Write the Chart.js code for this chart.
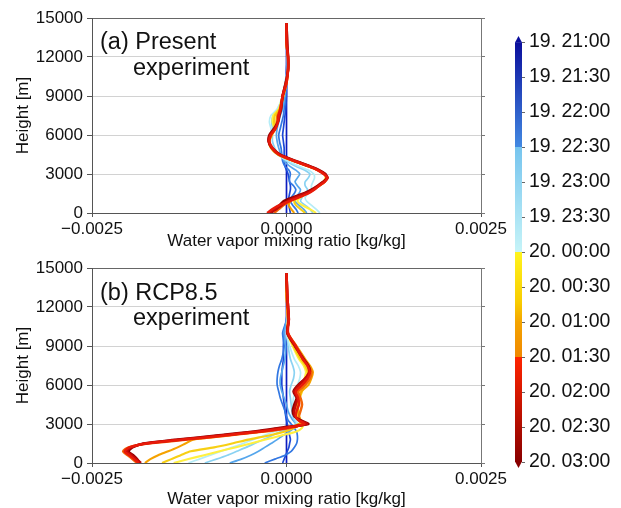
<!DOCTYPE html>
<html><head><meta charset="utf-8">
<script src="https://cdn.jsdelivr.net/npm/chart.js@4"></script>
<style>
html,body{margin:0;padding:0;background:#fff;width:621px;height:508px;overflow:hidden;}
#wrap{position:relative;width:621px;height:508px;font-family:'Liberation Sans',Arial,sans-serif;}
canvas{position:absolute;}
.lbl{position:absolute;font-size:23.5px;line-height:23.5px;color:#111;white-space:nowrap;}
</style></head><body>
<div id="wrap">
<canvas id="ca" width="515" height="250" style="left:0;top:0"></canvas>
<canvas id="cb" width="515" height="258" style="left:0;top:250px"></canvas>
<canvas id="cc" width="106" height="508" style="left:515px;top:0"></canvas>
<div class="lbl" style="left:100px;top:30px">(a) Present</div>
<div class="lbl" style="left:133px;top:56px">experiment</div>
<div class="lbl" style="left:100px;top:281px">(b) RCP8.5</div>
<div class="lbl" style="left:133px;top:306px">experiment</div>
</div>
<script>
// ---------- data ----------
const SCALE = 1e-4; // values below are in units of 1e-4 kg/kg
const HEIGHTS = [0,300,600,900,1200,1500,1800,2100,2400,2700,3000,3300,3600,4000,4500,5000,5500,6000,6500,7000,7500,8000,9000,10000,11000,12000,13000,14600];
const TIME_LABELS = ['19. 21:00','19. 21:30','19. 22:00','19. 22:30','19. 23:00','19. 23:30','20. 00:00','20. 00:30','20. 01:00','20. 01:30','20. 02:00','20. 02:30','20. 03:00'];
const X_TICKS = [-0.0025, 0, 0.0025];
const Y_TICKS = [0,3000,6000,9000,12000,15000];

// (a) Present experiment
const present_2100 = [0,0,0,0,0,0,0,0,0,0,0,0,0,0,0,0,0,0,0,0,0,0,0,0,0,0,0,0];
const present_2130 = [0.5,0.4,0.3,0.2,0.3,0.4,0.5,0.5,0.4,0.3,0.2,0,-0.2,-0.3,-0.3,-0.3,-0.4,-0.5,-0.4,-0.3,-0.2,-0.1,0,0,0,0.1,0,0];
const present_2200 = [1.5,1.2,0.8,0.5,0.6,1.0,1.2,0.9,0.4,0.4,0.5,0.3,-0.2,-0.5,-0.6,-0.7,-0.9,-1.0,-0.8,-0.6,-0.4,-0.3,-0.1,0,0.1,0.1,0,0];
const present_2230 = [2.6,2.2,1.6,1.1,1.2,1.6,1.8,1.4,1.1,1.4,1.7,1.2,0.4,-0.3,-0.7,-1.0,-1.2,-1.3,-1.2,-1.0,-0.8,-0.5,-0.2,-0.1,0.1,0.1,0,0];
const present_2300 = [3.4,3.0,2.4,1.8,2.0,2.4,2.7,2.4,2.4,2.8,3.0,2.3,1.2,0,-1.0,-1.5,-1.8,-1.8,-1.8,-1.9,-1.7,-1.0,-0.4,-0.2,0.1,0.1,0,0];
const present_2330 = [4.3,3.8,3.2,2.6,2.4,2.8,3.2,3.2,3.4,3.6,3.5,2.8,1.6,0.2,-1.2,-2.0,-2.2,-2.0,-2.0,-2.2,-2.0,-1.2,-0.5,-0.2,0.2,0.1,0,0];
const present_0000 = [3.8,3.0,2.0,1.4,1.8,2.6,3.4,4.1,4.7,5.0,4.9,4.1,2.9,1.0,-1.0,-1.9,-2.2,-1.9,-1.6,-1.8,-1.7,-1.0,-0.5,-0.1,0.2,0.2,0,0];
const present_0030 = [2.4,1.8,1.2,1.0,1.5,2.4,3.4,4.2,4.8,5.1,4.9,4.0,2.8,0.9,-1.1,-2.0,-2.2,-1.9,-1.5,-1.6,-1.5,-0.9,-0.4,0,0.2,0.2,0,0];
const present_0100 = [1.0,0.6,0.3,0.5,1.2,2.2,3.3,4.2,4.9,5.2,4.9,4.0,2.7,0.9,-1.1,-2.0,-2.2,-1.9,-1.4,-1.3,-1.2,-0.8,-0.4,0,0.2,0.2,0,0];
const present_0130 = [-1.6,-1.0,-0.4,0.4,1.4,2.6,3.5,4.2,4.9,5.2,4.8,4.0,2.8,1.0,-1.0,-1.9,-2.2,-2.0,-1.4,-1.2,-1.1,-0.8,-0.5,0,0.2,0.2,0,0];
const present_0200 = [-2.5,-1.8,-0.9,0.3,1.6,2.8,3.6,4.2,4.9,5.2,4.8,4.0,2.8,1.0,-1.0,-1.8,-2.2,-2.0,-1.4,-1.1,-1.0,-0.8,-0.5,0,0.2,0.2,0,0];
const present_0230 = [-2.2,-1.3,-0.6,0.1,1.1,2.4,3.4,4.1,4.8,5.3,4.9,4.1,2.9,1.1,-0.9,-1.9,-2.3,-2.1,-1.5,-1.1,-1.0,-0.7,-0.5,-0.1,0.2,0.2,0.1,0];
const present_0300 = [-1.9,-1.6,-0.9,-0.4,0.8,2.2,3.2,4.0,4.7,5.2,5.0,4.2,3.0,1.2,-0.8,-1.8,-2.3,-2.2,-1.6,-1.1,-0.9,-0.7,-0.5,-0.1,0.2,0.2,0.1,0];

// (b) RCP8.5 experiment
const rcp_2100 = [0,0,0,0,0,0,0,0,0,0,0,0,0,0,0,0,0,0,0,0,0,0,0,0,0,0,0,0];
const rcp_2130 = [-0.5,-0.3,-0.1,0.1,0.3,0.4,0.5,0.4,0.3,0.2,0.1,0,-0.1,-0.2,-0.3,-0.4,-0.5,-0.6,-0.6,-0.6,-0.5,-0.4,-0.4,-0.3,0,0.1,0,0];
const rcp_2200 = [-2.8,-1.5,-0.2,0.6,1.0,1.3,1.4,1.4,1.3,1.0,0.6,0.2,0,-0.2,-0.5,-0.8,-1.0,-1.2,-1.2,-1.1,-0.9,-0.6,-0.3,-0.5,0,0.1,0,0];
const rcp_2230 = [-7.3,-5.8,-4.6,-3.6,-2.8,-2.0,-1.2,-0.5,0.3,1.0,1.2,0.8,0.5,0.2,0,-0.3,-0.6,-0.8,-0.8,-0.6,-0.4,-0.2,-0.1,-0.3,0,0.1,0,0];
const rcp_2300 = [-10.5,-9.0,-7.6,-6.4,-5.2,-4.1,-3.0,-1.9,-0.8,0.5,1.2,1.0,0.8,0.7,0.6,0.5,0.4,0.6,0.9,1.0,0.8,0.5,0.2,0,0.1,0.1,0,0];
const rcp_2330 = [-12.6,-11.2,-9.8,-8.4,-7.0,-5.6,-4.3,-3.0,-1.6,0,1.4,1.2,1.0,0.9,0.8,0.9,1.1,1.4,1.7,1.8,1.5,1.0,0.4,0,0.1,0.1,0,0];
const rcp_0000 = [-14.5,-12.6,-10.6,-8.6,-6.6,-4.6,-2.7,-0.8,1.2,2.0,2.0,1.6,1.4,1.3,1.4,1.6,1.8,2.0,2.3,2.5,2.2,1.6,0.8,0.1,0.2,0.1,0,0];
const rcp_0030 = [-16.0,-14.8,-13.6,-12.3,-9.3,-7.0,-4.9,-2.4,-0.3,1.0,1.8,1.8,1.6,1.5,1.5,1.7,2.0,2.3,2.6,2.7,2.4,1.8,0.9,0.2,0.2,0.1,0,0];
const rcp_0100 = [-18.2,-17.5,-16.5,-15.2,-14.0,-13.0,-12.0,-7.8,-3.4,0.2,1.6,1.8,1.6,1.5,1.4,1.6,1.9,2.8,3.2,3.4,3.0,2.4,1.3,0.2,0.2,0.1,0,0];
const rcp_0130 = [-19.2,-19.8,-20.4,-21.0,-20.3,-17.8,-12.8,-7.8,-3.2,0.4,2.0,1.6,1.6,1.8,2.0,1.8,1.5,2.4,3.0,3.2,2.8,2.2,1.2,0.2,0.2,0.1,0,0];
const rcp_0200 = [-19.0,-19.6,-20.2,-20.8,-20.2,-18.0,-13.2,-8.3,-3.6,0,2.3,1.5,1.2,1.3,1.6,1.5,1.2,2.0,2.7,3.0,2.7,2.1,1.2,0.2,0.3,0.2,0.1,0];
const rcp_0230 = [-18.7,-19.3,-19.9,-20.5,-20.0,-18.2,-13.6,-8.8,-4.0,-0.5,2.6,1.6,1.1,1.0,1.2,1.4,1.0,1.6,2.4,2.9,2.7,2.1,1.1,0.1,0.3,0.2,0.1,0];
const rcp_0300 = [-18.9,-19.2,-19.7,-20.3,-19.8,-18.4,-14.0,-9.3,-4.5,-1.0,2.8,1.8,1.0,0.8,1.0,1.3,0.9,1.5,2.4,3.0,2.8,2.2,1.1,0.1,0.3,0.2,0.1,0];

const PRESENT = [present_2100,present_2130,present_2200,present_2230,present_2300,present_2330,present_0000,present_0030,present_0100,present_0130,present_0200,present_0230,present_0300];
const RCP = [rcp_2100,rcp_2130,rcp_2200,rcp_2230,rcp_2300,rcp_2330,rcp_0000,rcp_0030,rcp_0100,rcp_0130,rcp_0200,rcp_0230,rcp_0300];

// ---------- styles ----------
const LINE_COLORS = ['#0c1cc0','#1d48d6','#3277e2','#55a6ec','#8ad2f2','#b4ecf7','#fff040','#f7cf14','#f5a200','#f26408','#e81a0a','#c20a0a','#920000'];
// draw order (lower = on top)
const DRAW_ORDER = [13,12,11,10,9,8,7,6,5,4,1,2,3];
const CB_STOPS = [[0,'#0a0e9c'],[0.25,'#4289e2'],[0.2502,'#76c4ee'],[0.5,'#c6f4f8'],[0.5002,'#fff41e'],[0.62,'#f8cc00'],[0.6667,'#f4a400'],[0.75,'#f08800'],[0.7502,'#ff2400'],[1,'#880000']];
const FONT = "'Liberation Sans', Arial, sans-serif";
Chart.defaults.font.family = FONT;

function fmtX(v){
  if (Math.abs(v) < 1e-9) return '0.0000';
  return (v < 0 ? '\u2212' : '') + Math.abs(v).toFixed(4);
}

function panel(id, series, xAxisH){
  const datasets = series.map((vals, i) => ({
    data: vals.map((v, k) => ({x: v * SCALE, y: HEIGHTS[k]})),
    showLine: true,
    borderColor: LINE_COLORS[i],
    borderWidth: i >= 9 ? 2.5 : (i >= 6 ? 2.1 : 1.7),
    pointRadius: 0,
    tension: 0.25,
    fill: false,
    order: DRAW_ORDER[i]
  }));
  return new Chart(document.getElementById(id), {
    type: 'scatter',
    data: {datasets},
    options: {
      responsive: false, animation: false, events: [],
      layout: {padding: {left: 0, top: 18, right: 34, bottom: 0}},
      plugins: {legend: {display: false}, tooltip: {enabled: false}},
      scales: {
        x: {
          type: 'linear', position: 'bottom', min: X_TICKS[0], max: X_TICKS[X_TICKS.length-1],
          afterBuildTicks: s => { s.ticks = X_TICKS.map(v => ({value: v})); },
          ticks: {callback: v => fmtX(v), color: '#111', font: {size: 17}, padding: 2, maxRotation: 0, autoSkip: false},
          grid: {drawOnChartArea: false, tickLength: 4, tickColor: '#555'},
          border: {color: '#555', width: 1},
          title: {display: true, text: 'Water vapor mixing ratio [kg/kg]', color: '#111', font: {size: 17}, padding: {top: 0, bottom: -2}},
          afterFit: s => { s.height = xAxisH; }
        },
        x2: {
          type: 'linear', position: 'top', min: X_TICKS[0], max: X_TICKS[X_TICKS.length-1],
          ticks: {display: false}, grid: {display: false},
          border: {color: '#666', width: 1},
          afterFit: s => { s.height = 0; }
        },
        y: {
          type: 'linear', position: 'left', min: Y_TICKS[0], max: Y_TICKS[Y_TICKS.length-1],
          afterBuildTicks: s => { s.ticks = Y_TICKS.map(v => ({value: v})); },
          ticks: {color: '#111', font: {size: 17}, padding: 4, autoSkip: false, callback: v => String(v)},
          grid: {color: '#d2d2d2', tickColor: '#555', tickLength: 5, lineWidth: 1},
          border: {color: '#555', width: 1},
          title: {display: true, text: 'Height [m]', color: '#111', font: {size: 17}, padding: {top: 13, bottom: 0}},
          afterFit: s => { s.width = 92; }
        },
        y2: {
          type: 'linear', position: 'right', min: Y_TICKS[0], max: Y_TICKS[Y_TICKS.length-1],
          afterBuildTicks: s => { s.ticks = Y_TICKS.map(v => ({value: v})); },
          ticks: {display: false},
          grid: {drawOnChartArea: false, tickLength: 4, tickColor: '#777'},
          border: {color: '#777', width: 1},
          afterFit: s => { s.width = 0; }
        }
      }
    }
  });
}

panel('ca', PRESENT, 37);
panel('cb', RCP, 45);

// ---------- colour bar ----------
function cbGradient(chart){
  const a = chart.chartArea;
  if (!a) return CB_STOPS[0][1];
  const g = chart.ctx.createLinearGradient(0, a.top, 0, a.bottom);
  CB_STOPS.forEach(([p, c]) => g.addColorStop(p, c));
  return g;
}
const cbEnds = {
  id: 'cbEnds',
  afterDatasetsDraw(chart){
    const {ctx, chartArea: a} = chart;
    const mid = (a.left + a.right) / 2, h = 6;
    ctx.save();
    ctx.fillStyle = CB_STOPS[0][1];
    ctx.beginPath(); ctx.moveTo(a.left, a.top + 0.5); ctx.lineTo(a.right, a.top + 0.5); ctx.lineTo(mid, a.top - h); ctx.closePath(); ctx.fill();
    ctx.fillStyle = CB_STOPS[CB_STOPS.length-1][1];
    ctx.beginPath(); ctx.moveTo(a.left, a.bottom - 0.5); ctx.lineTo(a.right, a.bottom - 0.5); ctx.lineTo(mid, a.bottom + h); ctx.closePath(); ctx.fill();
    ctx.restore();
  }
};
new Chart(document.getElementById('cc'), {
  type: 'bar',
  data: {labels: ['cb'], datasets: [{data: [[0, TIME_LABELS.length - 1]], backgroundColor: c => cbGradient(c.chart), borderWidth: 0, barPercentage: 1, categoryPercentage: 1}]},
  options: {
    responsive: false, animation: false, events: [],
    layout: {padding: {left: 0, right: 0, top: 42, bottom: 46}},
    plugins: {legend: {display: false}, tooltip: {enabled: false}},
    scales: {
      x: {display: false},
      y: {
        type: 'linear', position: 'right', reverse: true, min: 0, max: TIME_LABELS.length - 1,
        afterBuildTicks: s => { s.ticks = TIME_LABELS.map((_, i) => ({value: i})); },
        ticks: {callback: v => TIME_LABELS[v], color: '#111', font: {size: 19.5}, padding: 4, autoSkip: false},
        grid: {drawOnChartArea: false, tickLength: 3, tickColor: '#666'},
        border: {display: false},
        afterFit: s => { s.width = 99; }
      }
    }
  },
  plugins: [cbEnds]
});
</script>
</body></html>
